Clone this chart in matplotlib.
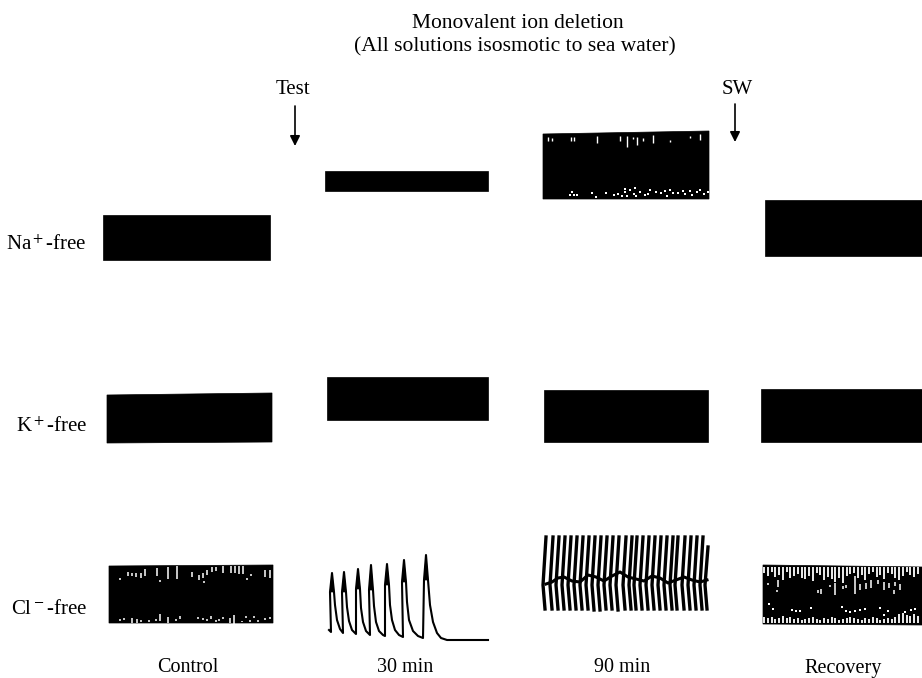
import matplotlib
matplotlib.use("Agg")
import matplotlib.pyplot as plt

plt.rcParams['font.family'] = ['Liberation Serif', 'DejaVu Serif']
plt.rcParams['mathtext.fontset'] = 'stix'

# black record blocks, corners (left, right, top-left, top-right, bottom-left, bottom-right)
blocks = [
    [103, 270, 215, 215, 260, 260],
    [325, 488, 171, 171, 191, 191],
    [543, 709, 134, 131, 199, 199],
    [765, 922, 200, 200, 256, 256],
    [107, 272, 395, 393, 443, 442],
    [327, 488, 377, 377, 420, 420],
    [544, 708, 390, 390, 442, 442],
    [761, 922, 389, 389, 442, 442],
    [109, 273, 566, 565, 623, 623],
    [763, 922, 565, 567, 624, 625],
]

# white gaps: na 90 min
na90_x = [548, 552, 571, 574, 597, 620, 627, 633, 637, 643, 653, 670, 690, 700]
na90_y0 = [137, 138, 137, 137, 136, 136, 136, 137, 137, 138, 135, 140, 136, 134]
na90_y1 = [141, 141, 141, 141, 143, 141, 147, 139, 145, 141, 143, 142, 138, 140]
na90_dot_x = [572, 570, 574, 577, 592, 596, 606, 614, 618, 622, 625, 627, 625, 630, 634, 636, 635, 640,
              645, 650, 648, 656, 661, 665, 667, 670, 673, 678, 683, 685, 690, 692, 697, 700, 704, 708]
na90_dot_y = [192, 195, 195, 195, 193, 197, 193, 195, 194, 196, 192, 196, 189, 190, 194, 196, 188, 192,
              195, 190, 194, 192, 193, 191, 196, 190, 193, 193, 191, 194, 191, 195, 192, 190, 194, 192]

# white gaps: cl control
ctl_x = [120, 128, 132, 136, 141, 145, 157, 160, 168, 177, 192, 199, 203, 204, 207, 212, 216, 223, 231,
         235, 239, 243, 247, 251, 265, 270]
ctl_y0 = [578, 572, 573, 573, 573, 569, 568, 580, 567, 566, 572, 575, 573, 581, 570, 567, 567, 566, 566,
          566, 566, 566, 578, 574, 570, 570]
ctl_y1 = [580, 576, 576, 577, 578, 576, 576, 582, 579, 579, 577, 580, 578, 583, 575, 572, 571, 573, 573,
          573, 574, 574, 580, 576, 577, 578]
ctl_b_x = [120, 124, 132, 137, 141, 149, 156, 160, 168, 176, 180, 198, 203, 207, 211, 216, 219, 223, 230,
           234, 242, 246, 250, 254, 258, 265, 270]
ctl_b_y0 = [619, 618, 618, 619, 620, 620, 619, 614, 617, 619, 616, 617, 618, 619, 616, 620, 619, 617,
            618, 615, 621, 616, 620, 616, 620, 618, 617]
ctl_b_y1 = [621, 620, 623, 623, 622, 622, 621, 621, 623, 621, 619, 619, 620, 621, 619, 622, 621, 619,
            623, 624, 622, 618, 622, 618, 622, 620, 619]

# white gaps: cl recovery, comb along top and bottom
rec_x = [764, 768, 772, 775, 779, 783, 787, 790, 794, 798, 802, 805, 809, 813, 817, 820, 824, 828, 832, 835, 839,
         843, 847, 850, 854, 858, 862, 865, 869, 873, 877, 880, 884, 888, 892, 895, 899, 903, 907, 910, 914, 918]
rec_top = [573, 576, 572, 577, 575, 580, 572, 578, 576, 574, 578, 579, 576, 581, 573, 575, 580, 577, 579, 582, 578,
           583, 576, 574, 573, 578, 575, 580, 574, 572, 577, 575, 579, 573, 574, 578, 580, 576, 572, 575, 577, 574]
rec_bot = [617, 618, 617, 619, 618, 616, 618, 617, 619, 618, 620, 619, 618, 617, 619, 620, 618, 619, 617, 618, 620,
           619, 618, 617, 618, 619, 620, 618, 619, 617, 618, 620, 619, 618, 619, 617, 614, 613, 615, 616, 614, 616]
rec_in_x = [768, 778, 777, 818, 821, 830, 835, 843, 846, 855, 860, 866, 871, 878, 884, 889, 895, 900, 894]
rec_in_y0 = [583, 580, 590, 590, 589, 585, 583, 586, 585, 576, 584, 583, 580, 580, 582, 583, 582, 584, 590]
rec_in_y1 = [585, 587, 592, 593, 594, 587, 595, 589, 588, 594, 590, 589, 588, 584, 590, 588, 586, 590, 594]
rec_low_x = [769, 773, 792, 796, 800, 811, 842, 846, 850, 855, 860, 865, 880, 884, 888, 905, 911, 915]
rec_low_y = [604, 609, 610, 611, 611, 608, 607, 611, 612, 611, 610, 609, 608, 615, 611, 612, 610, 609]

# cl 30 min trace: rise, tip, decay for each of the seven spikes, then the flat tail
trace_x = [329, 331, 330, 332, 334, 335, 337, 340, 343,
           342, 344, 346, 347, 349, 352, 356,
           356, 358, 360, 361, 363, 366, 370,
           369, 371, 373, 374, 376, 379, 383, 385,
           385, 387, 389, 390, 392, 395, 399, 403,
           402, 404, 406, 407, 409, 413, 418, 423,
           424, 426, 428, 430, 433, 437, 441, 447, 488]
trace_y = [630, 632, 592, 573, 592, 605, 620, 629, 633,
           592, 572, 592, 607, 621, 630, 634,
           589, 569, 589, 608, 622, 631, 635,
           590, 565, 590, 606, 622, 631, 635, 636,
           585, 564, 585, 605, 620, 630, 635, 637,
           582, 560, 582, 602, 620, 631, 636, 638,
           580, 555, 580, 605, 622, 633, 638, 640, 640]
# inked upper part of each spike
peak_x = [332, 344, 358, 371, 387, 404, 426]
peak_top = [573, 572, 569, 565, 564, 560, 555]
peak_low = [592, 592, 589, 590, 585, 582, 580]

# cl 90 min strokes
stroke_top_x = [546, 553, 559, 565, 571, 577, 583, 589, 595, 601, 607, 613, 619, 626, 632, 637, 643, 649, 655,
                661, 667, 673, 678, 685, 691, 697, 703, 708]
stroke_top_y = [537, 537, 537, 537, 537, 537, 537, 537, 537, 537, 537, 537, 537, 537, 537, 537, 537, 537, 537,
                537, 537, 537, 537, 537, 537, 537, 537, 547]
stroke_mid_y = [585] * 28
stroke_bot_y = [609, 609, 609, 609, 609, 609, 609, 609, 610, 610, 609, 609, 610, 609, 609, 609, 609, 609, 609,
                609, 609, 609, 609, 609, 609, 609, 609, 609]
wobble_x = [546, 552, 558, 564, 572, 580, 588, 596, 604, 612, 620, 628, 636, 644, 652, 660, 668, 676, 684, 692, 700, 707]
wobble_y = [584, 582, 578, 577, 581, 582, 575, 577, 581, 576, 572, 577, 579, 581, 576, 578, 583, 580, 577, 580, 582, 580]

row_labels = ['Na$^+$-free', 'K$^+$-free', 'Cl$^-$-free']
row_y = [245, 427, 609]
col_labels = ['Control', '30 min', '90 min', 'Recovery']
col_x = [188, 405, 622, 843]

fig = plt.figure(figsize=(9.22, 6.78), dpi=100)
ax = fig.add_axes([0, 0, 1, 1])
ax.set_xlim(0, 922)
ax.set_ylim(678, 0)
ax.axis('off')

for l, r, tl, tr, bl, br in blocks:
    ax.fill([l, r, r, l], [tl, tr, br, bl], color='black', lw=0.5)

ax.vlines(na90_x, na90_y0, na90_y1, color='white', lw=1.0)
ax.scatter(na90_dot_x, na90_dot_y, s=2.5, c='white', marker='s', lw=0)
ax.vlines(ctl_x, ctl_y0, ctl_y1, color='white', lw=1.1)
ax.vlines(ctl_b_x, ctl_b_y0, ctl_b_y1, color='white', lw=1.1)

ax.vlines(rec_x, [567] * len(rec_x), rec_top, color='white', lw=1.3)
ax.vlines(rec_x, rec_bot, [623] * len(rec_x), color='white', lw=1.3)
ax.vlines(rec_in_x, rec_in_y0, rec_in_y1, color='white', lw=1.1)
ax.scatter(rec_low_x, rec_low_y, s=3, c='white', marker='s', lw=0)

ax.plot(trace_x, trace_y, color='black', lw=1.5)
for x, top, low in zip(peak_x, peak_top, peak_low):
    # ink fills the spike between rise and decay
    ax.fill([x - 2, x, x + 2], [low, top, low], color='black', lw=0.5)

for i in range(len(stroke_top_x)):
    x = stroke_top_x[i]
    ax.plot([x, x - 3, x - 1], [stroke_top_y[i], stroke_mid_y[i], stroke_bot_y[i]], color='black', lw=2.4)
ax.plot(wobble_x, wobble_y, color='black', lw=2.2)

ax.text(518, 23, 'Monovalent ion deletion', ha='center', va='center', fontsize=15.5)
ax.text(515, 47, '(All solutions isosmotic to sea water)', ha='center', va='center', fontsize=15.5)
ax.text(293, 89, 'Test', ha='center', va='center', fontsize=15)
ax.text(737, 89, 'SW', ha='center', va='center', fontsize=15)

ax.annotate('', xy=(295, 146), xytext=(295, 106),
            arrowprops=dict(arrowstyle='-|>', color='black', lw=1.2, mutation_scale=15, shrinkA=0, shrinkB=0))
ax.annotate('', xy=(735, 142), xytext=(735, 104),
            arrowprops=dict(arrowstyle='-|>', color='black', lw=1.2, mutation_scale=15, shrinkA=0, shrinkB=0))

for lab, y in zip(row_labels, row_y):
    ax.text(87, y, lab, ha='right', va='center', fontsize=15)
for lab, x in zip(col_labels, col_x):
    ax.text(x, 668, lab, ha='center', va='center', fontsize=14.5)

fig.savefig('out.png', dpi=100)
